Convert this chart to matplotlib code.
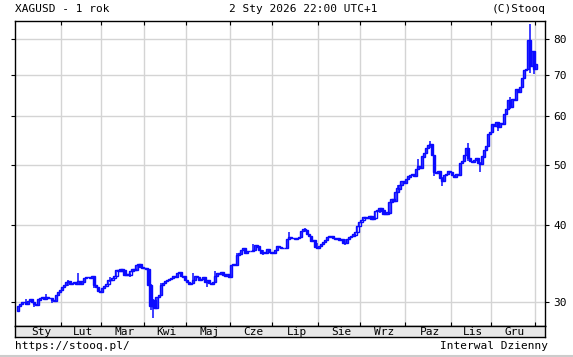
import numpy as np
import pandas as pd
import matplotlib
matplotlib.use("Agg")
from matplotlib import pyplot as plt
from matplotlib.lines import Line2D

# Daily closes, one list per month (XAGUSD, 2025)
jan = [29.55, 29.75, 30.05, 30.05, 29.85, 30.15, 30.30, 30.05, 29.80, 29.70, 30.30,
       30.45, 30.55, 30.40, 30.60, 30.45, 30.50, 30.20, 30.15, 30.85, 31.20, 31.35]
feb = [31.75, 31.95, 32.30, 32.40, 32.15, 32.20, 32.35, 32.05, 32.50, 32.10,
       32.40, 32.85, 32.95, 32.90, 32.80, 33.00, 32.00, 31.70, 31.25, 31.15]
mar = [31.65, 31.85, 32.05, 32.55, 32.60, 32.85, 33.10, 33.85, 33.65, 33.95, 33.75,
       33.20, 33.35, 33.15, 33.65, 33.95, 33.85, 34.45, 34.55, 34.20, 34.05]
apr = [34.05, 33.90, 32.00, 29.60, 30.20, 29.40, 30.60, 30.80, 32.00, 32.20, 32.45,
       32.55, 32.70, 32.85, 33.10, 32.95, 33.45, 33.55, 33.10, 33.00, 32.60]
may = [32.35, 32.05, 32.25, 32.60, 33.00, 32.95, 32.55, 32.75, 32.90, 32.40, 32.55,
       32.20, 32.10, 32.35, 33.10, 33.45, 33.35, 33.50, 33.25, 33.05, 33.30, 33.00]
jun = [34.50, 34.55, 34.40, 35.80, 35.95, 36.40, 36.65, 36.10, 36.25, 36.35, 36.30,
       36.40, 37.05, 36.90, 36.40, 36.05, 36.20, 36.00, 36.50, 36.20, 36.05]
jul = [36.10, 36.45, 36.95, 36.85, 36.70, 36.75, 36.70, 37.90, 38.20, 38.10, 38.05, 37.95,
       38.15, 38.20, 39.05, 39.35, 39.20, 38.70, 38.35, 37.70, 37.85, 36.85, 36.75]
aug = [37.00, 37.30, 37.55, 37.80, 38.25, 38.35, 38.30, 38.05, 37.95, 38.05, 37.80,
       37.95, 37.40, 37.35, 37.90, 38.20, 38.40, 38.60, 38.90, 39.80, 40.40]
sep = [40.70, 41.20, 41.10, 41.00, 41.30, 40.90, 41.05, 42.10, 42.35, 42.60, 42.20,
       41.70, 41.65, 41.90, 43.60, 44.10, 43.75, 45.20, 45.80, 46.35, 47.10, 46.80]
oct_ = [47.40, 47.90, 48.10, 48.30, 47.95, 49.20, 49.80, 49.40, 51.60, 52.20, 53.30, 53.90,
        54.10, 51.90, 48.70, 48.60, 48.80, 47.60, 47.10, 48.20, 48.40, 48.90, 48.70]
nov = [48.20, 47.80, 48.30, 48.10, 50.40, 50.80, 51.90, 53.20, 51.40, 50.80,
       50.60, 51.00, 51.40, 50.30, 50.20, 51.60, 52.80, 53.60, 56.20, 56.50]
dec = [58.30, 57.90, 58.70, 57.70, 58.40, 58.20, 60.40, 61.50, 63.70, 62.10, 63.90,
       63.60, 66.40, 65.60, 66.90, 69.10, 71.20, 71.60, 79.50, 72.40, 76.40, 71.60]
jan26 = [72.80]
first_open = 29.00

# Wicks that stick out of the bodies: date -> (low, high)
spikes = {
    "2025-01-08": (29.7, 30.4),
    "2025-01-14": (29.5, 30.0),
    "2025-01-22": (30.3, 30.9),
    "2025-01-27": (29.9, 30.4),
    "2025-02-06": (31.9, 32.6),
    "2025-02-13": (32.1, 33.5),
    "2025-02-25": (31.6, 32.5),
    "2025-03-07": (32.4, 33.0),
    "2025-03-21": (32.9, 33.6),
    "2025-04-04": (29.1, 32.1),
    "2025-04-07": (28.3, 30.4),
    "2025-04-11": (30.7, 32.2),
    "2025-05-06": (32.4, 33.4),
    "2025-05-15": (31.7, 32.6),
    "2025-05-21": (32.9, 33.7),
    "2025-06-05": (34.4, 36.1),
    "2025-06-17": (36.3, 37.3),
    "2025-06-24": (35.8, 36.5),
    "2025-07-11": (37.8, 39.0),
    "2025-07-23": (39.0, 39.5),
    "2025-07-31": (36.6, 37.4),
    "2025-08-20": (37.1, 37.9),
    "2025-09-12": (41.9, 42.6),
    "2025-09-25": (45.0, 46.4),
    "2025-10-09": (49.2, 51.2),
    "2025-10-17": (53.2, 54.6),
    "2025-10-21": (48.0, 52.0),
    "2025-10-27": (46.2, 47.9),
    "2025-11-13": (50.8, 54.3),
    "2025-11-21": (48.8, 50.5),
    "2025-12-04": (56.8, 58.7),
    "2025-12-12": (61.5, 64.5),
    "2025-12-29": (70.5, 84.5),
    "2025-12-31": (70.2, 76.5),
}

months = ["Sty", "Lut", "Mar", "Kwi", "Maj", "Cze", "Lip", "Sie", "Wrz", "Paz", "Lis", "Gru"]
y_ticks = [30, 40, 50, 60, 70, 80]

dates = pd.bdate_range("2025-01-02", "2026-01-02")
dates = dates.drop(pd.to_datetime(["2025-04-18", "2025-12-25", "2026-01-01"]))
close = np.array(jan + feb + mar + apr + may + jun + jul + aug + sep + oct_ + nov + dec + jan26)
assert len(close) == len(dates)
opn = np.concatenate([[first_open], close[:-1]])
x = np.arange(len(close))

blue = "#0a0aff"
mono = "DejaVu Sans Mono"

fig = plt.figure(figsize=(5.73, 3.57), dpi=100)
ax = fig.add_axes([0.0257, 0.0877, 0.9254, 0.8535])

# candles
lo = np.minimum(opn, close)
hi = np.maximum(opn, close)
wl, wh = lo.copy(), hi.copy()
for d, (l, h) in spikes.items():
    i = dates.get_loc(pd.Timestamp(d))
    wl[i], wh[i] = min(l, lo[i]), max(h, hi[i])
ax.vlines(x, wl, wh, color=blue, lw=1.1, zorder=3)
up = close >= opn
ax.bar(x[up], (hi - lo)[up] + 0.02, bottom=lo[up], width=1.1, facecolor="none",
       edgecolor=blue, lw=1.0, zorder=4)
ax.bar(x[~up], (hi - lo)[~up] + 0.02, bottom=lo[~up], width=1.1, facecolor=blue,
       edgecolor=blue, lw=1.0, zorder=4)

ax.set_yscale("log")
ax.set_ylim(27.49, 85.5)
ax.set_xlim(-1.65, 262.4)

# month boundaries
mon = dates.to_period("M")
starts = [0] + [i for i in range(1, len(dates)) if mon[i] != mon[i - 1]]
bounds = [s - 0.5 for s in starts[1:]]
for b in bounds:
    ax.axvline(b, color="#d4d4d4", lw=1, zorder=1)
for t in y_ticks:
    ax.axhline(t, color="#d4d4d4", lw=1, zorder=1)

ax.set_xticks(bounds)
ax.tick_params(axis="x", which="both", direction="in", length=3, top=True, bottom=True,
               labelbottom=False, width=0.8)
ax.yaxis.tick_right()
ax.set_yticks(y_ticks)
ax.set_yticklabels([str(t) for t in y_ticks], fontfamily=mono, fontsize=8)
ax.yaxis.set_minor_locator(matplotlib.ticker.NullLocator())
ax.tick_params(axis="y", which="major", direction="out", length=3, pad=3, width=0.8,
               left=True, right=True)
for s in ax.spines.values():
    s.set_linewidth(1.0)

# month strip under the plot
sx = fig.add_axes([0.0257, 0.056, 0.9254, 0.0317])
sx.set_facecolor("#e8e8e8")
sx.set_xlim(ax.get_xlim())
sx.set_ylim(0, 1)
sx.set_xticks([])
sx.set_yticks([])
for s in sx.spines.values():
    s.set_linewidth(1.0)
edges = [-0.5] + bounds
for k, name in enumerate(months):
    sx.text((edges[k] + edges[k + 1]) / 2 + 1, 0.45, name, ha="center", va="center",
            fontfamily=mono, fontsize=8)

# header and footer texts
fig.text(0.0257, 0.975, "XAGUSD - 1 rok", ha="left", va="center", fontfamily=mono, fontsize=8)
fig.text(0.529, 0.975, "2 Sty 2026 22:00 UTC+1", ha="center", va="center", fontfamily=mono, fontsize=8)
fig.text(0.953, 0.975, "(C)Stooq", ha="right", va="center", fontfamily=mono, fontsize=8)
fig.text(0.0257, 0.031, "https://stooq.pl/", ha="left", va="center", fontfamily=mono, fontsize=8)
fig.text(0.957, 0.031, "Interwal Dzienny", ha="right", va="center", fontfamily=mono, fontsize=8)
fig.add_artist(Line2D([0, 1], [0.004, 0.004], color="#cccccc", lw=1.5, transform=fig.transFigure))

fig.savefig("out.png", dpi=100)
